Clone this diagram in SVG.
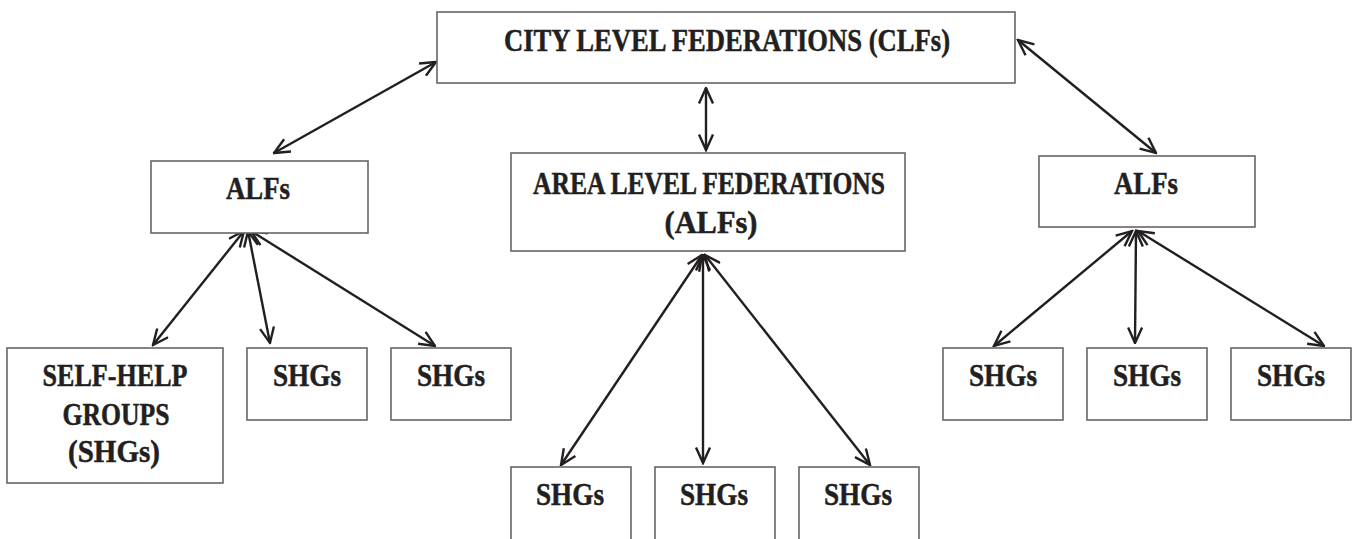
<svg xmlns="http://www.w3.org/2000/svg" width="1355" height="539" viewBox="0 0 1355 539">
<style>
.box{fill:#fff;stroke:#666;stroke-width:1.6}
.t{font-family:"Liberation Serif","DejaVu Serif",serif;font-weight:bold;font-size:31px;fill:#231f20;text-anchor:middle;stroke:#231f20;stroke-width:0.5}
.c{stroke:#231f20;stroke-width:2.4;fill:none;marker-start:url(#ah);marker-end:url(#ah)}
</style>
<defs>
<marker id="ah" markerUnits="userSpaceOnUse" viewBox="0 0 18 16" refX="16.5" refY="8" markerWidth="18" markerHeight="16" orient="auto-start-reverse">
<path d="M1,1 L16.5,8 L1,15" fill="none" stroke="#231f20" stroke-width="2.4" stroke-linejoin="miter"/>
</marker>
</defs>
<rect width="1355" height="539" fill="#fff"/>
<g id="connectors">
<line class="c" x1="436" y1="62" x2="274" y2="153"/>
<line class="c" x1="706" y1="88" x2="706" y2="150"/>
<line class="c" x1="1018" y1="40" x2="1156" y2="153"/>
<line class="c" x1="244" y1="231" x2="153" y2="345"/>
<line class="c" x1="248" y1="231" x2="270" y2="343"/>
<line class="c" x1="251" y1="231" x2="435" y2="346"/>
<line class="c" x1="702" y1="255" x2="561" y2="465"/>
<line class="c" x1="703" y1="255" x2="703" y2="463"/>
<line class="c" x1="705" y1="255" x2="870" y2="465"/>
<line class="c" x1="1132" y1="231" x2="994" y2="346"/>
<line class="c" x1="1136" y1="231" x2="1135" y2="343"/>
<line class="c" x1="1138" y1="231" x2="1324" y2="346"/>
</g>
<g id="clf">
<rect class="box" x="437" y="12" width="578" height="71"/>
<text class="t" x="727" y="51" textLength="446" lengthAdjust="spacingAndGlyphs">CITY LEVEL FEDERATIONS (CLFs)</text>
</g>
<g id="alf-left">
<rect class="box" x="151" y="161" width="217" height="72"/>
<text class="t" x="258" y="199" textLength="64" lengthAdjust="spacingAndGlyphs">ALFs</text>
</g>
<g id="alf-center">
<rect class="box" x="511" y="153" width="394" height="98"/>
<text class="t" x="709" y="194" textLength="352" lengthAdjust="spacingAndGlyphs">AREA LEVEL FEDERATIONS</text>
<text class="t" x="711" y="233" textLength="93" lengthAdjust="spacingAndGlyphs">(ALFs)</text>
</g>
<g id="alf-right">
<rect class="box" x="1039" y="156" width="216" height="71"/>
<text class="t" x="1146" y="194" textLength="64" lengthAdjust="spacingAndGlyphs">ALFs</text>
</g>
<g id="shg-self-help">
<rect class="box" x="7" y="348" width="216" height="135"/>
<text class="t" x="115" y="386" textLength="145" lengthAdjust="spacingAndGlyphs">SELF-HELP</text>
<text class="t" x="116" y="425" textLength="107" lengthAdjust="spacingAndGlyphs">GROUPS</text>
<text class="t" x="114" y="462" textLength="92" lengthAdjust="spacingAndGlyphs">(SHGs)</text>
</g>
<g id="shg-l2">
<rect class="box" x="247" y="348" width="120" height="72"/>
<text class="t" x="307" y="386" textLength="68" lengthAdjust="spacingAndGlyphs">SHGs</text>
</g>
<g id="shg-l3">
<rect class="box" x="391" y="348" width="120" height="72"/>
<text class="t" x="451" y="386" textLength="68" lengthAdjust="spacingAndGlyphs">SHGs</text>
</g>
<g id="shg-c1">
<rect class="box" x="511" y="467" width="120" height="90"/>
<text class="t" x="570" y="505" textLength="68" lengthAdjust="spacingAndGlyphs">SHGs</text>
</g>
<g id="shg-c2">
<rect class="box" x="655" y="467" width="120" height="90"/>
<text class="t" x="714" y="505" textLength="68" lengthAdjust="spacingAndGlyphs">SHGs</text>
</g>
<g id="shg-c3">
<rect class="box" x="799" y="467" width="120" height="90"/>
<text class="t" x="858" y="505" textLength="68" lengthAdjust="spacingAndGlyphs">SHGs</text>
</g>
<g id="shg-r1">
<rect class="box" x="943" y="348" width="120" height="72"/>
<text class="t" x="1003" y="386" textLength="68" lengthAdjust="spacingAndGlyphs">SHGs</text>
</g>
<g id="shg-r2">
<rect class="box" x="1087" y="348" width="120" height="72"/>
<text class="t" x="1147" y="386" textLength="68" lengthAdjust="spacingAndGlyphs">SHGs</text>
</g>
<g id="shg-r3">
<rect class="box" x="1231" y="348" width="120" height="72"/>
<text class="t" x="1291" y="386" textLength="68" lengthAdjust="spacingAndGlyphs">SHGs</text>
</g>
</svg>
